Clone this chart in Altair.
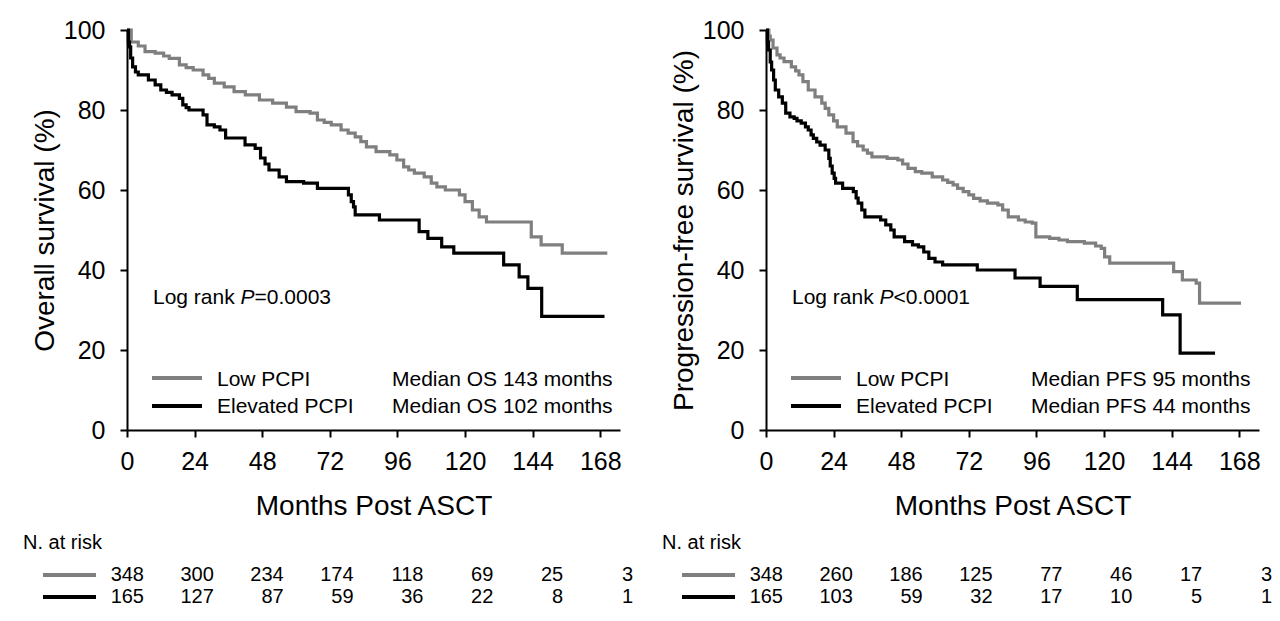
import altair as alt
import pandas as pd

FONT = "Liberation Sans, Arial, Helvetica, sans-serif"
GRAY = "#7f7f7f"
BLACK = "#000000"
GROUPS = ["Low PCPI", "Elevated PCPI"]
X_TICKS = [0, 24, 48, 72, 96, 120, 144, 168]
Y_TICKS = [0, 20, 40, 60, 80, 100]

# ---- Overall survival (left panel) ----
os_low_t = [0, 1.5, 4, 6.4, 10, 13, 15, 18.6, 21, 23.5, 27, 29, 31, 34.5, 38, 42, 47, 51.7, 56.6, 60,
            65, 67.6, 70, 72.5, 76, 78.5, 81, 83, 85, 88.4, 93.3, 95.8, 98.2, 100, 102, 105.5, 108, 110,
            113, 118, 120, 122.6, 125, 127.6, 143.5, 147, 154.5, 170.5]
os_low_s = [100, 97, 96, 94.6, 94.2, 93.5, 92.9, 91.3, 90.6, 90, 88.8, 87.9, 86.7, 85.8, 84.6, 83.8,
            82.5, 81.7, 80.7, 79.6, 79.2, 77.5, 76.9, 76.3, 75, 74.2, 73.3, 72.1, 70.8, 69.6, 68.8,
            67.5, 65.8, 65, 64.2, 63.3, 61.7, 60.8, 60, 58.8, 57.1, 55, 53.3, 52, 48.3, 46.3, 44.2, 44.2]
os_high_t = [0, 0.5, 0.9, 1.3, 2, 3, 4, 7.6, 10, 12, 14, 16, 18.6, 19.8, 21, 22, 27, 28.4, 31, 33,
             35, 41.9, 45.5, 47.4, 49, 50.4, 54, 56.6, 62.7, 67.6, 78.6, 79.6, 80.4, 81, 89.6, 103.7,
             106.8, 111.7, 116, 133.7, 139.2, 142.3, 147.2, 169.5]
os_high_s = [100, 97, 95.8, 93, 90.8, 89.5, 88.8, 87.5, 86.3, 85, 84.4, 83.8, 82.9, 81.3, 80.6, 80,
             78.8, 76.3, 75.8, 75, 73, 71.3, 70.4, 68, 66.5, 65, 63.3, 62.1, 61.7, 60.4, 58.8, 57.1,
             55.8, 53.8, 52.5, 49.6, 47.9, 45.8, 44.2, 41.3, 38.3, 35.4, 28.4, 28.4]

# ---- Progression-free survival (right panel) ----
pfs_low_t = [0, 1, 1.5, 2.5, 3.9, 5, 6.4, 9, 10.5, 11.7, 13.1, 15, 17.4, 19.8, 21, 22.3, 24, 25.3,
             28.4, 30.9, 32.5, 34.5, 36, 37.6, 43, 46.8, 48.5, 50.4, 53, 55.3, 59, 62.7, 64.5, 66.4,
             68, 70, 72, 73.7, 76, 78.6, 82.3, 84, 86, 89.6, 92, 94.5, 95.8, 100.7, 104, 107, 113,
             117, 119, 120.2, 122, 144.7, 147.8, 152.7, 153.9, 168.6]
pfs_low_s = [100, 98.5, 97.5, 95.5, 93.8, 93, 92.1, 90.8, 89.8, 88.8, 87.1, 85, 83.3, 81.7, 80.4,
             78.8, 77.3, 75.8, 74.2, 72.1, 71, 70, 69.2, 68.3, 67.9, 67.5, 66.5, 65.4, 64.6, 64.2,
             63.3, 62.5, 61.9, 61.3, 60.4, 59.6, 58.8, 57.9, 57.3, 56.7, 56.3, 55, 53.3, 52.5, 52,
             51.7, 48.3, 47.9, 47.5, 47.1, 46.7, 46, 45.4, 43.3, 41.7, 39.6, 37.5, 36.7, 31.7, 31.7]
pfs_high_t = [0, 0.5, 0.9, 1.5, 2, 2.7, 3.3, 4.5, 5.8, 7, 8.5, 10, 11, 12.5, 14, 15, 16, 16.8, 18,
              19.2, 21, 22.3, 22.8, 23.5, 24.2, 24.7, 27.2, 31, 32, 32.7, 34, 35.1, 40.7, 42.5, 44.3,
              45.5, 49.2, 52, 54.1, 56, 57.8, 60, 62.7, 75, 88.4, 97.3, 110.5, 140.8, 147, 159.4]
pfs_high_s = [100, 97, 95, 92, 90, 87.5, 85, 83.3, 81.7, 79.2, 78.3, 77.9, 77.3, 76.7, 75.8, 75,
              73.8, 72.9, 72, 71.2, 70, 67.9, 66, 64.2, 62.9, 61.7, 60.4, 59.6, 58, 56.7, 55, 53.3,
              52.5, 51.3, 50, 48.3, 47.1, 46.3, 45.8, 44.5, 42.9, 42, 41.3, 40, 38, 35.9, 32.6, 28.8,
              19.2, 19.2]

# ---- Numbers at risk ----
os_risk_low = [348, 300, 234, 174, 118, 69, 25, 3]
os_risk_high = [165, 127, 87, 59, 36, 22, 8, 1]
pfs_risk_low = [348, 260, 186, 125, 77, 46, 17, 3]
pfs_risk_high = [165, 103, 59, 32, 17, 10, 5, 1]


def text_mark(text, x, y, size=21, italic=False, align="left"):
    return alt.Chart(pd.DataFrame({"label": [text]})).mark_text(
        align=align, baseline="middle", font=FONT, fontSize=size,
        fontStyle="italic" if italic else "normal", color=BLACK
    ).encode(x=alt.value(x), y=alt.value(y), text="label:N")


def rule_mark(x1, x2, y, color, width=4):
    return alt.Chart(pd.DataFrame({"k": [0]})).mark_rule(color=color, strokeWidth=width).encode(
        x=alt.value(x1), x2=alt.value(x2), y=alt.value(y))


def panel(low_t, low_s, high_t, high_s, ytitle, lr_op, lr_val, med_name, med_low, med_high,
          risk_low, risk_high):
    curves = pd.concat([
        pd.DataFrame({"month": low_t, "surv": low_s, "group": GROUPS[0]}),
        pd.DataFrame({"month": high_t, "surv": high_s, "group": GROUPS[1]}),
    ])
    lines = alt.Chart(curves).mark_line(interpolate="step-after", strokeWidth=3.2).encode(
        x=alt.X("month:Q", scale=alt.Scale(domain=[0, 175], nice=False),
                axis=alt.Axis(values=X_TICKS, title="Months Post ASCT", titleFontSize=28,
                              labelPadding=12, titlePadding=18, labelFlush=False)),
        y=alt.Y("surv:Q", scale=alt.Scale(domain=[0, 100], nice=False),
                axis=alt.Axis(values=Y_TICKS, title=ytitle, titleFontSize=28,
                              labelPadding=15, titlePadding=4)),
        color=alt.Color("group:N", scale=alt.Scale(domain=GROUPS, range=[GRAY, BLACK]), legend=None),
    )

    risk = pd.DataFrame({
        "month": X_TICKS + X_TICKS,
        "n": risk_low + risk_high,
        "group": [GROUPS[0]] * len(X_TICKS) + [GROUPS[1]] * len(X_TICKS),
    })
    table = alt.Chart(risk).mark_text(align="right", baseline="middle", font=FONT, fontSize=20,
                                      color=BLACK).encode(
        x=alt.X("month:Q", scale=alt.Scale(domain=[0, 168], range=[17, 506]), axis=None),
        y=alt.Y("group:N", scale=alt.Scale(type="point", domain=GROUPS, range=[545, 567], padding=0),
                axis=None),
        text="n:Q",
    )

    annotations = [
        text_mark("Log rank ", 26, 268),
        text_mark("P", 113.5, 268, italic=True),
        text_mark(lr_op + lr_val, 127.5, 268),
        rule_mark(25, 75, 348, GRAY),
        rule_mark(25, 75, 376, BLACK),
        text_mark(GROUPS[0], 90, 350),
        text_mark(GROUPS[1], 90, 377),
        text_mark(f"Median {med_name} {med_low} months", 265, 350),
        text_mark(f"Median {med_name} {med_high} months", 265, 377),
        text_mark("N. at risk", -104, 513, size=20),
        rule_mark(-84, -31, 545, GRAY),
        rule_mark(-84, -31, 567, BLACK),
    ]
    return alt.layer(lines, table, *annotations).resolve_scale(
        x="independent", y="independent").properties(width=493, height=400)


left = panel(os_low_t, os_low_s, os_high_t, os_high_s, "Overall survival (%)", "=", "0.0003",
             "OS", 143, 102, os_risk_low, os_risk_high)
right = panel(pfs_low_t, pfs_low_s, pfs_high_t, pfs_high_s, "Progression-free survival (%)", "<",
              "0.0001", "PFS", 95, 44, pfs_risk_low, pfs_risk_high)

chart = alt.hconcat(left, right, spacing=146, bounds="flush").properties(
    padding={"left": 15, "top": 10, "right": 0, "bottom": 0}
).configure_view(stroke=None).configure_axis(
    domainColor=BLACK, domainWidth=2, tickColor=BLACK, tickWidth=2, tickSize=7,
    labelFont=FONT, labelFontSize=25, labelColor=BLACK,
    titleFont=FONT, titleColor=BLACK, titleFontWeight="normal", grid=False,
)

chart.save("out.html", embed_options={"renderer": "svg", "actions": False})
